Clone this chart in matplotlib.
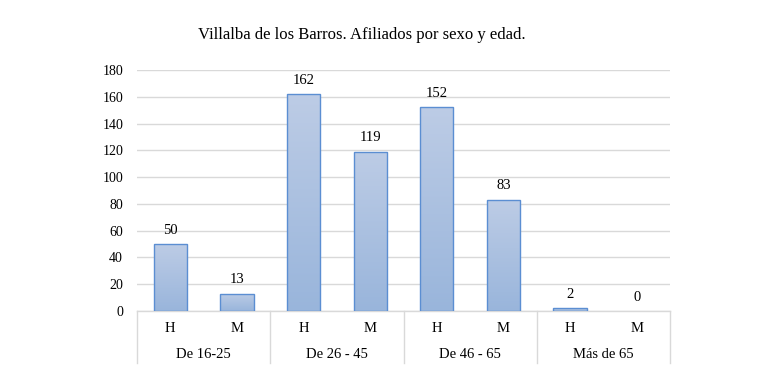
import matplotlib
matplotlib.use("Agg")
import matplotlib.pyplot as plt
import matplotlib.transforms as mtransforms
from matplotlib.patches import Rectangle
import numpy as np

groups = ["De 16-25", "De 26 - 45", "De 46 - 65", "Más de 65"]
sexes = ["H", "M"]
values = [50, 13, 162, 119, 152, 83, 2, 0]
yticks = [0, 20, 40, 60, 80, 100, 120, 140, 160, 180]
title = "Villalba de los Barros. Afiliados por sexo y edad."

plt.rcParams['font.family'] = ['Liberation Serif', 'DejaVu Serif']

fig = plt.figure(figsize=(7.65, 3.82), dpi=100)
ax = fig.add_axes([137/765, 1-311/382, (670-137)/765, (311-70)/382])

n = len(values)
x = np.arange(n)
ax.set_xlim(-0.5, n-0.5)
ax.set_ylim(0, 180)
ax.set_yticks(yticks)
ax.tick_params(axis='y', length=0, labelsize=10, pad=10)
ax.tick_params(axis='x', length=0, labelbottom=False)
for s in ax.spines.values():
    s.set_visible(False)
ax.grid(axis='y', color='#d9d9d9', linewidth=1)
ax.set_axisbelow(True)

grad = np.linspace(0, 1, 256).reshape(-1, 1)
top_c = np.array([0.74, 0.80, 0.90])
bot_c = np.array([0.60, 0.71, 0.86])
img = top_c[None, None, :] * (1 - grad[:, :, None]) + bot_c[None, None, :] * grad[:, :, None]

bw = 0.5
for xi, v in zip(x, values):
    if v > 0:
        im = ax.imshow(img, extent=(xi-bw/2, xi+bw/2, 0, v), aspect='auto', zorder=2,
                       origin='upper')
        rect = Rectangle((xi-bw/2, 0), bw, v, facecolor='none', edgecolor='#5b8ed2',
                         linewidth=1, zorder=3)
        ax.add_patch(rect)
        im.set_clip_path(rect)
    ax.annotate(str(v), (xi, v), xytext=(0, 10), textcoords='offset points',
                ha='center', va='center', fontsize=10.5, zorder=4)

ax.set_xlim(-0.5, n-0.5)
ax.set_ylim(0, 180)

trans = mtransforms.blended_transform_factory(ax.transData, ax.transAxes)
ax_h = (311-70)
def ay(py):
    return -(py-311)/ax_h

ax.plot([-0.5, n-0.5], [0, 0], transform=trans, color='#d9d9d9', lw=1, clip_on=False, zorder=1)
for b in [-0.5, 1.5, 3.5, 5.5, 7.5]:
    ax.plot([b, b], [0, ay(363)], transform=trans, color='#d9d9d9', lw=1, clip_on=False)

for i, xi in enumerate(x):
    ax.text(xi, ay(328), sexes[i % 2], transform=trans, ha='center', va='center', fontsize=10.5)
for g, name in enumerate(groups):
    ax.text(2*g + 0.5, ay(354), name, transform=trans, ha='center', va='center', fontsize=10.5)

fig.text(362/765, 1-35/382, title, ha='center', va='center', fontsize=12)

fig.savefig("out.png", dpi=100)
